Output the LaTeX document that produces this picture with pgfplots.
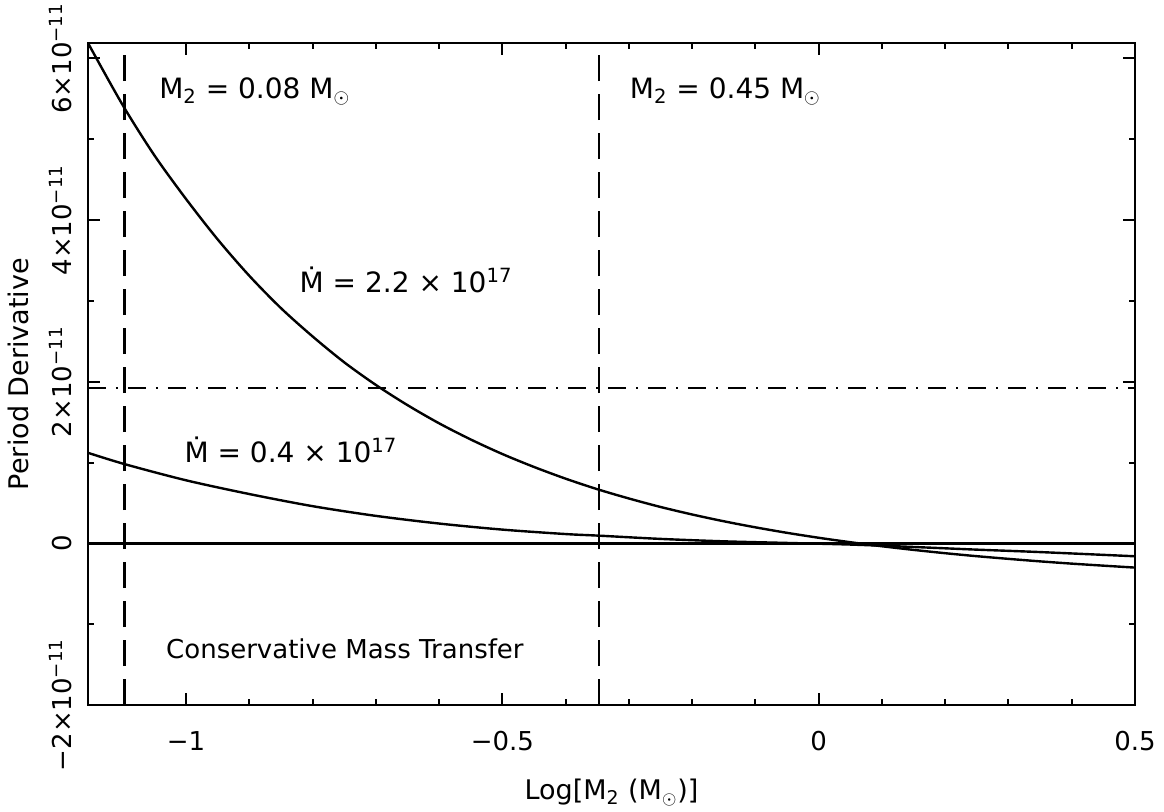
\documentclass[border=0pt]{standalone}
\usepackage{fontspec}
\setmainfont{DejaVu Sans}
\usepackage{pgfplots}
\pgfplotsset{compat=1.18}

\begin{document}
\begin{tikzpicture}
\begin{axis}[
  scale only axis, width=523.5pt, height=331pt,
  xmin=-1.155, xmax=0.5, ymin=-2, ymax=6.19,
  xtick={-1,-0.5,0,0.5}, xticklabels={−1,−0.5,0,0.5},
  minor x tick num=4,
  ytick={-2,0,2,4,6},
  yticklabels={−2×10\textsuperscript{−11},0,2×10\textsuperscript{−11},4×10\textsuperscript{−11},6×10\textsuperscript{−11}},
  minor y tick num=1,
  tick align=inside,
  major tick length=6pt, minor tick length=3pt,
  every tick/.append style={black, line width=1pt},
  axis line style={line width=1.3pt},
  tick label style={font=\fontsize{13}{15}\selectfont},
  xticklabel style={anchor=north, inner sep=0pt, yshift=-13pt},
  yticklabel style={rotate=90, anchor=south, inner sep=0pt, inner ysep=8pt},
  every axis x label/.style={at={(axis description cs:0.5,-0.1435)}, anchor=base, font=\fontsize{13.5}{16}\selectfont},
  every axis y label/.style={at={(axis description cs:-0.0573,0.5)}, anchor=base, rotate=90, font=\fontsize{13.5}{16}\selectfont},
  xlabel={Log[M\textsubscript{2} (M$_\odot$)]},
  ylabel={Period Derivative},
]
% Mdot = 2.2e17
\addplot[black, line width=1.2pt, smooth] coordinates {
(-1.155,6.19) (-1.10,5.42) (-1.05,4.80) (-1.00,4.26) (-0.95,3.76)
(-0.90,3.31) (-0.85,2.91) (-0.80,2.56) (-0.75,2.24) (-0.70,1.96)
(-0.65,1.71) (-0.60,1.485) (-0.55,1.285) (-0.50,1.105) (-0.45,0.945)
(-0.40,0.80) (-0.35,0.67) (-0.30,0.555) (-0.25,0.45) (-0.20,0.357)
(-0.15,0.273) (-0.10,0.198) (-0.05,0.13) (0.00,0.069) (0.05,0.014)
(0.10,-0.036) (0.15,-0.081) (0.20,-0.122) (0.25,-0.159) (0.30,-0.192)
(0.35,-0.223) (0.40,-0.251) (0.45,-0.276) (0.50,-0.30)
};
% Mdot = 0.4e17
\addplot[black, line width=1.2pt, smooth] coordinates {
(-1.155,1.12) (-1.097,0.98) (-1.0,0.78) (-0.9,0.61) (-0.8,0.46)
(-0.7,0.34) (-0.6,0.245) (-0.5,0.17) (-0.4,0.115) (-0.347,0.095)
(-0.25,0.055) (-0.15,0.025) (-0.05,0.005) (0.05,-0.015) (0.15,-0.045)
(0.25,-0.078) (0.35,-0.108) (0.5,-0.16)
};
% zero line
\addplot[black, line width=1.2pt] coordinates {(-1.155,0) (0.5,0)};
% threshold
\addplot[black, line width=1.2pt, dash pattern=on 9pt off 5pt on 1pt off 5pt] coordinates {(-1.155,1.92) (0.5,1.92)};
% mass limits
\addplot[black, line width=1.2pt, dash pattern=on 13pt off 6.5pt] coordinates {(-1.097,-2) (-1.097,6.19)};
\addplot[black, line width=1.2pt, dash pattern=on 13pt off 6.5pt] coordinates {(-0.347,-2) (-0.347,6.19)};
\node[anchor=base west, inner sep=0pt, font=\fontsize{14}{16}\selectfont] at (axis cs:-1.043,5.50) {M\textsubscript{2} = 0.08 M$_\odot$};
\node[anchor=base west, inner sep=0pt, font=\fontsize{14}{16}\selectfont] at (axis cs:-0.299,5.50) {M\textsubscript{2} = 0.45 M$_\odot$};
\node[anchor=base west, inner sep=0pt, font=\fontsize{14}{16}\selectfont] at (axis cs:-0.821,3.10) {Ṁ = 2.2 × 10\textsuperscript{17}};
\node[anchor=base west, inner sep=0pt, font=\fontsize{14}{16}\selectfont] at (axis cs:-1.003,1.00) {Ṁ = 0.4 × 10\textsuperscript{17}};
\node[anchor=base west, inner sep=0pt, font=\fontsize{13}{16}\selectfont] at (axis cs:-1.032,-1.43) {Conservative Mass Transfer};
\end{axis}
\pgfresetboundingbox
\path[use as bounding box] (-44pt,-53pt) rectangle (538pt,352.5pt);
\end{tikzpicture}
\end{document}
